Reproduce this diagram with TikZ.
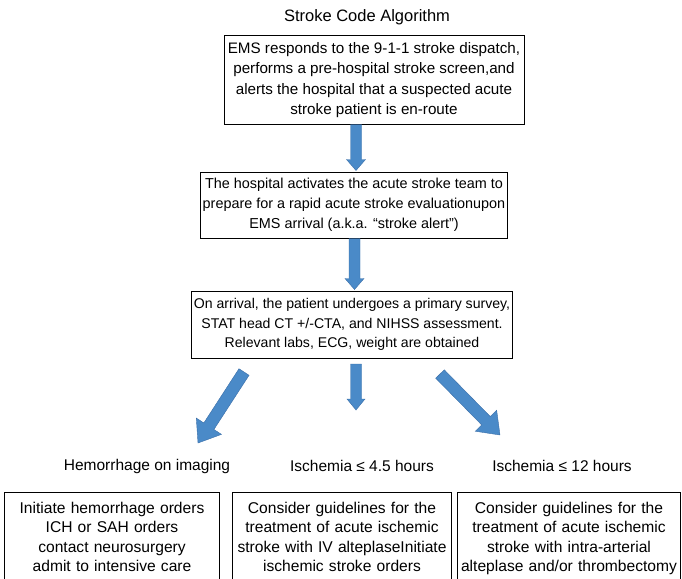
\documentclass[tikz,border=0pt]{standalone}
\usepackage{fontspec}
\setmainfont{Liberation Sans}
\usetikzlibrary{calc}
\definecolor{arrowblue}{RGB}{74,138,200}
\definecolor{arrowedge}{RGB}{58,110,168}
\tikzset{
  box/.style={draw=black, line width=0.9pt, align=center, inner sep=2pt},
  lowtext/.style={align=center, anchor=north, font=\fontsize{15.6}{19.3}\selectfont, inner xsep=0pt, inner ysep=10pt},
  lowframe/.style={draw=black, line width=0.9pt},
  lbl/.style={font=\fontsize{15.5}{18}\selectfont},
  blockarrow/.style={fill=arrowblue, draw=arrowedge, line width=0.4pt},
}
\begin{document}
\begin{tikzpicture}[x=1pt,y=-1pt]
\useasboundingbox (0,0) rectangle (682,578);
\clip (0,0) rectangle (682,578);
\node[lbl, font=\fontsize{16.5}{20}\selectfont] (title) at (367,17) {Stroke Code Algorithm};
\node[box, minimum width=300pt, minimum height=89pt, font=\fontsize{15.2}{20.3}\selectfont] (b1) at (374,80) {EMS responds to the 9-1-1 stroke dispatch,\\performs a pre-hospital stroke screen,and\\alerts the hospital that a suspected acute\\stroke patient is en-route};
\node[box, minimum width=304pt, minimum height=66pt, font=\fontsize{14.4}{20}\selectfont] (b2) at (354,205) {The hospital activates the acute stroke team to\\prepare for a rapid acute stroke evaluationupon\\EMS arrival (a.k.a. “stroke alert”)};
\node[box, minimum width=320pt, minimum height=67pt, font=\fontsize{14.1}{19.5}\selectfont] (b3) at (352,324.5) {On arrival, the patient undergoes a primary survey,\\STAT head CT +/-CTA, and NIHSS assessment.\\Relevant labs, ECG, weight are obtained};

\node[lbl] (l1) at (147,466) {Hemorrhage on imaging};
\node[lbl] (l2) at (362,466) {Ischemia ≤ 4.5 hours};
\node[lbl] (l3) at (562,466) {Ischemia ≤ 12 hours};

\node[lowtext, text width=214pt] (c1) at (112,492) {Initiate hemorrhage orders\\ICH or SAH orders\\contact neurosurgery\\admit to intensive care};
\node[lowtext, text width=218pt] (c2) at (342,492) {Consider guidelines for the\\treatment of acute ischemic\\stroke with IV alteplaseInitiate\\ischemic stroke orders};
\node[lowtext, text width=222pt] (c3) at (569,492) {Consider guidelines for the\\treatment of acute ischemic\\stroke with intra-arterial\\alteplase and/or thrombectomy};
\foreach \n in {c1,c2,c3}{
  \draw[lowframe] (\n.north west) rectangle ($(\n.south east)+(0,30)$);
}

% arrows
\coordinate (a1s) at (356,124.5);
\coordinate (a1e) at (356,170.5);
\coordinate (a2s) at (354.5,238.5);
\coordinate (a2e) at (354.5,289.5);
\coordinate (a3s) at (356,364);
\coordinate (a3e) at (356,410);
\coordinate (a4s) at (244,372);
\coordinate (a4e) at (198,443);
\coordinate (a5s) at (440,374);
\coordinate (a5e) at (500,435);
\foreach \s/\e/\w/\h/\l in {a1s/a1e/5.5/9.5/11, a2s/a2e/5.5/9.5/11, a3s/a3e/5.5/9/11, a4s/a4e/6/15/20, a5s/a5e/6/15/20}{
  \path let \p1=(\s), \p2=(\e), \n1={atan2(\y2-\y1,\x2-\x1)}, \n2={veclen(\x2-\x1,\y2-\y1)} in
    [blockarrow, shift={(\p1)}, rotate=\n1]
    (0,-\w) -- ({\n2-\l},-\w) -- ({\n2-\l},-\h) -- (\n2,0) -- ({\n2-\l},\h) -- ({\n2-\l},\w) -- (0,\w) -- cycle;
}
\end{tikzpicture}
\end{document}
